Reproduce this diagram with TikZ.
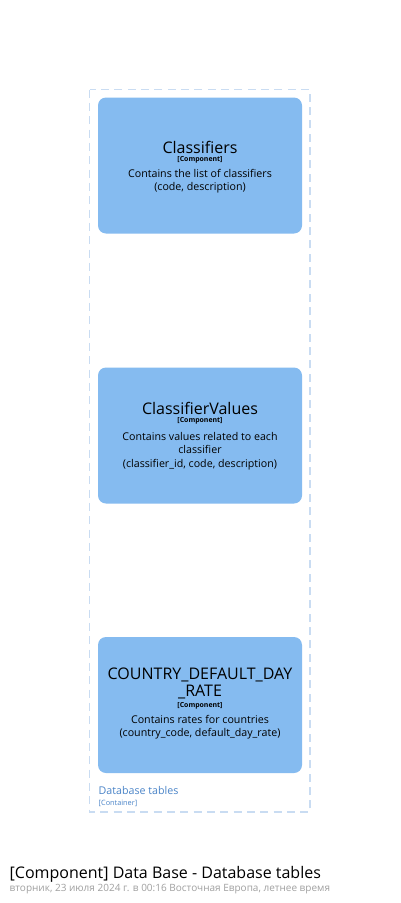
\documentclass[tikz,border=0pt]{standalone}
\usepackage{fontspec}
\setmainfont{Open Sans}
\usepackage{xcolor}
\usetikzlibrary{positioning}
\definecolor{compfill}{HTML}{85BBF0}
\definecolor{bndline}{HTML}{C9DCF2}
\definecolor{bndtext}{HTML}{4A84C8}
\definecolor{subgray}{HTML}{A0A0A0}

\begin{document}
\begin{tikzpicture}[x=0.75pt,y=-0.75pt,
    comp/.style={fill=compfill,rounded corners=6pt,minimum width=153pt,minimum height=102pt,
                 align=center,text=black,inner sep=0pt},
    cname/.style={align=center,font=\fontsize{12}{13}\selectfont},
    cmeta/.style={align=center,font=\fontsize{5.2}{6}\selectfont\bfseries},
    cdesc/.style={align=center,inner sep=0pt,font=\fontsize{8}{10}\selectfont}]
        \useasboundingbox (0,0) rectangle (400,903);
        \fill[white] (0,0) rectangle (400,903); % fondo
        \draw[bndline,line width=1.3pt,dash pattern=on 6pt off 4pt] (89.5,89.5) rectangle (310,812); % frontera
        \node[anchor=west,text=bndtext,font=\fontsize{8}{8}\selectfont] (bndname) at (94,790) {Database tables};
        \node[anchor=west,text=bndtext,font=\fontsize{5.5}{6}\selectfont] (bndtype) at (94,803) {[Container]};
        % componentes
        \node[comp] (classifiers) at (200,165.5) {};
        \node[cname] (classname) at (200,147) {Classifiers};
        \node[cmeta] (classtype) at (200,160) {[Component]};
        \node[cdesc] (classdesc) at (200,181) {Contains the list of classifiers\\(code, description)};
        \node[comp] (values) at (200,435.5) {};
        \node[cname] (valname) at (200,408) {ClassifierValues};
        \node[cmeta] (valtype) at (200,421) {[Component]};
        \node[cdesc] (valdesc) at (200,451) {Contains values related to each\\classifier\\(classifier\_id, code, description)};
        \node[comp] (rates) at (200,705) {};
        \node[cname] (ratename) at (200,683.5) {COUNTRY\_DEFAULT\_DAY\\\_RATE};
        \node[cmeta] (ratetype) at (200,706) {[Component]};
        \node[cdesc] (ratedesc) at (200,727.5) {Contains rates for countries\\(country\_code, default\_day\_rate)};
        % titulo
        \node[anchor=west,font=\fontsize{12}{12}\selectfont] (title) at (5,874) {[Component] Data Base - Database tables};
        \node[anchor=west,text=subgray,font=\fontsize{7.5}{8}\selectfont] (subtitle) at (5,889) {вторник, 23 июля 2024 г. в 00:16 Восточная Европа, летнее время};
\end{tikzpicture}
\end{document}
